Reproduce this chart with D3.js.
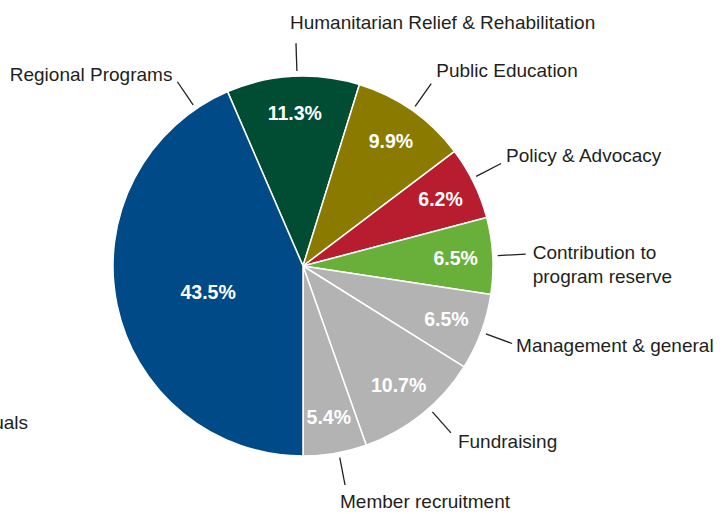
<!DOCTYPE html>
<html>
<head>
<meta charset="utf-8">
<script src="https://cdn.jsdelivr.net/npm/d3@7"></script>
<style>
  html, body { margin: 0; padding: 0; background: #fff; }
  svg { display: block; }
  .lbl { font-family: "Liberation Sans", Arial, sans-serif; font-size: 19px; fill: #231f20; }
  .pct { font-family: "Liberation Sans", Arial, sans-serif; font-size: 19.5px; font-weight: bold; fill: #fff; }
</style>
</head>
<body>
<script>
// Data
const categories = [
  "Humanitarian Relief & Rehabilitation",
  "Public Education",
  "Policy & Advocacy",
  "Contribution to program reserve",
  "Management & general",
  "Fundraising",
  "Member recruitment",
  "Regional Programs"
];
const values = [11.3, 9.9, 6.2, 6.5, 6.5, 10.7, 5.4, 43.5];
const colors = ["#004d33", "#8a7a00", "#b71c2f", "#69b03a", "#b3b3b3", "#b3b3b3", "#b3b3b3", "#004b87"];
const labelLines = [
  ["Humanitarian Relief & Rehabilitation"],
  ["Public Education"],
  ["Policy & Advocacy"],
  ["Contribution to", "program reserve"],
  ["Management & general"],
  ["Fundraising"],
  ["Member recruitment"],
  ["Regional Programs"]
];

const W = 723, H = 514;
const cx = 303, cy = 266, R = 190;

const svg = d3.select("body").append("svg").attr("width", W).attr("height", H);

// Cropped label from neighbouring chart (cut at the left edge, as in the reference)
svg.append("text").attr("class", "lbl").attr("x", 28).attr("y", 422)
  .attr("dominant-baseline", "central").attr("text-anchor", "end").text("Individuals");

const g = svg.append("g").attr("transform", `translate(${cx},${cy})`);

const total = d3.sum(values);
const startOffset = Math.PI - (d3.sum(values.slice(0, 7)) / total) * 2 * Math.PI;

const pie = d3.pie().sort(null).value(d => d.v)
  .startAngle(startOffset).endAngle(startOffset + 2 * Math.PI);
const data = pie(values.map((v, i) => ({ v, i, name: categories[i] })));

const arc = d3.arc().innerRadius(0).outerRadius(R);

g.selectAll("path.slice").data(data).join("path")
  .attr("class", "slice")
  .attr("d", arc)
  .attr("fill", d => colors[d.data.i])
  .attr("stroke", "#fff")
  .attr("stroke-width", 1.5)
  .attr("stroke-linejoin", "round");

// Percentage labels
const labelArc = d3.arc().innerRadius(R * 0.805).outerRadius(R * 0.805);
const bigArc = d3.arc().innerRadius(R * 0.51).outerRadius(R * 0.51);
g.selectAll("text.pct").data(data).join("text")
  .attr("class", "pct")
  .attr("text-anchor", "middle")
  .attr("dominant-baseline", "central")
  .attr("transform", d => {
    const big = d.data.v > 30;
    const c = (big ? bigArc : labelArc).centroid(d);
    return `translate(${c[0]},${c[1] + (big ? 6 : 0)})`;
  })
  .text(d => d.data.v.toFixed(1) + "%");

// Leader lines and labels (layout offsets relative to line end)
const layout = {
  "Humanitarian Relief & Rehabilitation": { shift: 0.022, anchor: "start", dx: -6, dy: -21 },
  "Public Education": { shift: 0, anchor: "start", dx: 5, dy: -14 },
  "Policy & Advocacy": { shift: -0.025, anchor: "start", dx: 5, dy: -9 },
  "Contribution to program reserve": { shift: 0, anchor: "start", dx: 7, dy: -2 },
  "Management & general": { shift: 0, anchor: "start", dx: 4, dy: 1 },
  "Fundraising": { shift: -0.05, anchor: "start", dx: 7, dy: 8 },
  "Member recruitment": { shift: -0.02, anchor: "start", dx: -5, dy: 16 },
  "Regional Programs": { shift: null, anchor: "end", dx: -5, dy: -8 }
};
const r1 = R + 5, r2 = R + 33;
const pt = (a, r) => [Math.sin(a) * r, -Math.cos(a) * r];

data.forEach(d => {
  const L = layout[d.data.name];
  const a = L.shift === null ? d.endAngle - 0.19 : (d.startAngle + d.endAngle) / 2 + L.shift;
  const p1 = pt(a, r1), p2 = pt(a, r2);
  g.append("line")
    .attr("x1", p1[0]).attr("y1", p1[1]).attr("x2", p2[0]).attr("y2", p2[1])
    .attr("stroke", "#231f20").attr("stroke-width", 1.3);
  const t = g.append("text").attr("class", "lbl")
    .attr("text-anchor", L.anchor)
    .attr("dominant-baseline", "central");
  labelLines[d.data.i].forEach((line, k) => {
    t.append("tspan").attr("x", p2[0] + L.dx).attr("y", p2[1] + L.dy + k * 24).text(line);
  });
});
</script>
</body>
</html>
